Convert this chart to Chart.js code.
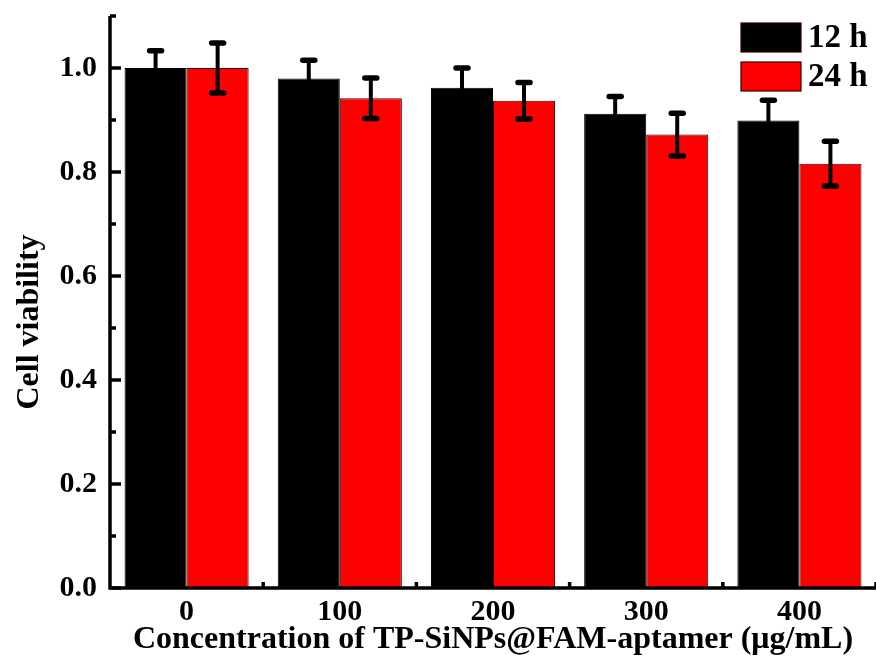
<!DOCTYPE html>
<html>
<head>
<meta charset="utf-8">
<script src="https://cdn.jsdelivr.net/npm/chart.js@4.4.1/dist/chart.umd.min.js"></script>
<style>
html,body{margin:0;padding:0;background:#fff;}
#wrap{width:876px;height:664px;position:relative;}
</style>
</head>
<body>
<div id="wrap"><canvas id="c" width="876" height="664"></canvas></div>
<script>
const categories = ['0', '100', '200', '300', '400'];
const viability12h = [1.000, 0.980, 0.962, 0.912, 0.899];
const viability24h = [1.000, 0.942, 0.937, 0.872, 0.816];
const err12h = [0.033, 0.035, 0.038, 0.033, 0.039];
const err24h = [0.048, 0.039, 0.035, 0.041, 0.043];
const seriesLabels = ['12 h', '24 h'];
const yTickValues = [0, 0.2, 0.4, 0.6, 0.8, 1.0];
const yTitle = 'Cell viability';
const xTitle = 'Concentration of TP-SiNPs@FAM-aptamer (μg/mL)';

const FONT = "'Liberation Serif', 'Times New Roman', serif";
const errors = [err12h, err24h];

const errorBarPlugin = {
  id: 'errorBars',
  afterDatasetsDraw(chart) {
    const ctx = chart.ctx;
    const y = chart.scales.y;
    ctx.save();
    ctx.strokeStyle = '#000';
    chart.data.datasets.forEach((ds, di) => {
      const meta = chart.getDatasetMeta(di);
      meta.data.forEach((bar, i) => {
        const v = ds.data[i];
        const e = errors[di][i];
        const x = bar.x;
        const yt = y.getPixelForValue(v + e);
        const yb = y.getPixelForValue(v - e);
        ctx.lineCap = 'butt';
        ctx.lineWidth = 4;
        ctx.beginPath();
        ctx.moveTo(x, yt);
        ctx.lineTo(x, yb);
        ctx.stroke();
        ctx.lineCap = 'round';
        ctx.lineWidth = 5.5;
        [yt, yb].forEach(yy => {
          ctx.beginPath();
          ctx.moveTo(x - 6, yy);
          ctx.lineTo(x + 6, yy);
          ctx.stroke();
        });
      });
    });
    ctx.restore();
  }
};

const axesPlugin = {
  id: 'axesTicks',
  afterDraw(chart) {
    const ctx = chart.ctx;
    const ys = chart.scales.y;
    const xs = chart.scales.x;
    const area = chart.chartArea;
    ctx.save();
    ctx.strokeStyle = '#000';
    ctx.lineCap = 'butt';
    ctx.lineWidth = 3.5;
    ctx.beginPath();
    ctx.moveTo(area.left, area.top);
    ctx.lineTo(area.left, area.bottom);
    ctx.lineTo(area.right, area.bottom);
    ctx.stroke();
    for (let k = 0; k <= 11; k++) {
      const v = k / 10;
      const py = ys.getPixelForValue(v);
      const len = (k % 2 === 0 && k <= 10) ? 11 : 6;
      ctx.beginPath();
      ctx.moveTo(area.left, py);
      ctx.lineTo(area.left + len, py);
      ctx.stroke();
    }
    const n = categories.length;
    const step = (area.right - area.left) / n;
    for (let k = 1; k <= n; k++) {
      const px = (xs.getPixelForValue(k - 1) + (k < n ? xs.getPixelForValue(k) : xs.getPixelForValue(k - 1) + step)) / 2;
      ctx.beginPath();
      ctx.moveTo(px, area.bottom);
      ctx.lineTo(px, area.bottom - 6);
      ctx.stroke();
    }
    // y title
    ctx.save();
    ctx.translate(30, 322);
    ctx.rotate(-Math.PI / 2);
    ctx.fillStyle = '#000';
    ctx.font = "bold 32px " + FONT;
    ctx.textAlign = 'center';
    ctx.textBaseline = 'middle';
    ctx.fillText(yTitle, 0, 0);
    ctx.restore();
    // legend
    const items = chart.data.datasets;
    const bx = 741, bw = 60, bh = 29;
    const tops = [23, 62];
    items.forEach((ds, i) => {
      ctx.fillStyle = ds.backgroundColor;
      ctx.fillRect(bx, tops[i], bw, bh);
      ctx.lineWidth = 1.2;
      ctx.strokeStyle = '#300';
      ctx.strokeRect(bx, tops[i], bw, bh);
      ctx.fillStyle = '#000';
      ctx.font = "bold 33px " + FONT;
      ctx.textBaseline = 'middle';
      ctx.textAlign = 'left';
      ctx.fillText(ds.label, bx + 67, tops[i] + bh / 2 + 1);
    });
    ctx.restore();
  }
};

new Chart(document.getElementById('c'), {
  type: 'bar',
  data: {
    labels: categories,
    datasets: [
      { label: seriesLabels[0], data: viability12h, backgroundColor: '#000000', borderColor: '#000000', borderWidth: 1 },
      { label: seriesLabels[1], data: viability24h, backgroundColor: '#ff0000', borderColor: '#3a0000', borderWidth: 1 }
    ]
  },
  options: {
    responsive: false,
    animation: false,
    layout: { padding: { top: 16, right: -7, left: 0, bottom: 0 } },
    datasets: { bar: { categoryPercentage: 0.81, barPercentage: 1.0 } },
    plugins: { legend: { display: false }, tooltip: { enabled: false } },
    scales: {
      x: {
        grid: { display: false, drawTicks: false },
        border: { display: false },
        ticks: { color: '#000', padding: 6, font: { family: FONT, size: 30, weight: 'bold' } },
        title: { display: true, text: xTitle, color: '#000',
                 padding: { top: 0, bottom: 5 }, font: { family: FONT, size: 32, weight: 'bold' } },
        afterFit(s) { s.height = 76; s.paddingLeft = 0; s.paddingRight = 0; }
      },
      y: {
        min: 0, max: 1.1,
        grid: { display: false, drawTicks: false },
        border: { display: false },
        afterBuildTicks(s) { s.ticks = yTickValues.map(v => ({ value: v })); },
        ticks: { color: '#000', padding: 13, font: { family: FONT, size: 30, weight: 'bold' },
                 callback: v => Number(v).toFixed(1) },
        title: { display: false },
        afterFit(s) { s.width = 110; s.paddingTop = 0; s.paddingBottom = 0; }
      }
    }
  },
  plugins: [errorBarPlugin, axesPlugin]
});
</script>
</body>
</html>
